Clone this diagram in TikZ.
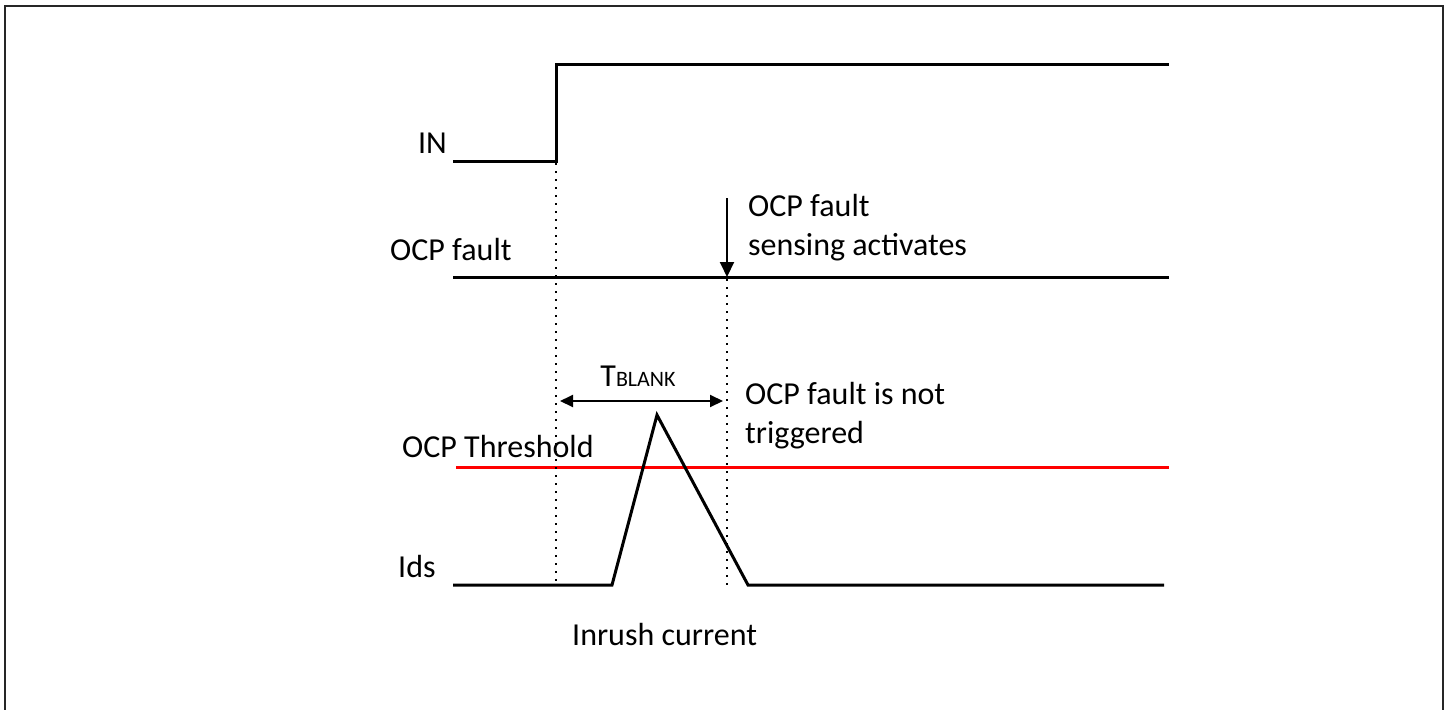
\documentclass[tikz,border=0pt]{standalone}
\usepackage{fontspec}
\setmainfont{Carlito}
\usetikzlibrary{arrows.meta,positioning}
\tikzset{
    sig/.style={
        draw=black,
        line width=3pt,
        line join=miter,
    },
    thr/.style={
        draw=red,
        line width=3pt,
    },
    guide/.style={
        draw=black,
        line width=2.2pt,
        dash pattern=on 2.2pt off 5.8pt,
    },
    pointer/.style={
        draw=black,
        line width=2pt,
        -{Triangle[length=15pt,width=14pt]},
    },
    span/.style={
        draw=black,
        line width=2pt,
        {Triangle[length=13pt,width=12pt]}-{Triangle[length=13pt,width=12pt]},
    },
    lbl/.style={
        inner sep=0pt,
        font=\fontsize{32}{39}\selectfont,
    },
    frame/.style={
        draw=black!85,
        line width=1.5pt,
    }
}

\begin{document}
\begin{tikzpicture}[x=1pt,y=-1pt]
    \useasboundingbox (0,0) rectangle (1450,709);

    % outer frame (bottom edge lies outside)
    \coordinate (f1) at (5,712);
    \coordinate (f2) at (5,6);
    \coordinate (f3) at (1443,6);
    \coordinate (f4) at (1443,712);
    \draw[frame] (f1) -- (f2) -- (f3) -- (f4);

    % IN
    \coordinate (in0) at (453,161);
    \coordinate (in1) at (556,161);
    \coordinate (in2) at (556,65);
    \coordinate (in3) at (1169,65);
    \draw[sig] (in0) -- (in1) -- (in2) -- (in3);
    \node[lbl, anchor=base east] (inlbl) at (447,153) {IN};

    % OCP fault
    \coordinate (oc0) at (453,277);
    \coordinate (oc1) at (1169,277);
    \draw[sig] (oc0) -- (oc1);
    \node[lbl, anchor=base west] (oclbl) at (390,260) {OCP fault};
    \coordinate (act0) at (727,198);
    \coordinate (act1) at (727,277);
    \draw[pointer] (act0) -- (act1);
    \node[lbl, anchor=north west, align=left] (actlbl) at (748,194)
        {OCP fault\\sensing activates};

    % OCP threshold
    \coordinate (th0) at (456,467);
    \coordinate (th1) at (1169,467);
    \draw[thr] (th0) -- (th1);
    \node[lbl, anchor=base west] (thlbl) at (402,457) {OCP Threshold};

    % Ids
    \coordinate (id0) at (453,585);
    \coordinate (id1) at (612,585);
    \coordinate (id2) at (657,415);
    \coordinate (id3) at (748,585);
    \coordinate (id4) at (1164,585);
    \draw[sig] (id0) -- (id1) -- (id2) -- (id3) -- (id4);
    \node[lbl, anchor=base west] (idlbl) at (398,577) {Ids};
    \node[lbl, anchor=base west] (inrush) at (572,645) {Inrush current};

    % blanking window
    \coordinate (g0) at (556,163);
    \coordinate (g1) at (556,586);
    \coordinate (g2) at (727,279);
    \coordinate (g3) at (727,590);
    \draw[guide] (g0) -- (g1);
    \draw[guide] (g2) -- (g3);
    \coordinate (tb0) at (560,401);
    \coordinate (tb1) at (723,401);
    \draw[span] (tb0) -- (tb1);
    \node[lbl, anchor=base] (tblbl) at (638,386)
        {T{\fontsize{22}{26}\selectfont BLANK}};
    \node[lbl, anchor=north west, align=left] (notlbl) at (745,382)
        {OCP fault is not\\triggered};
\end{tikzpicture}
\end{document}
